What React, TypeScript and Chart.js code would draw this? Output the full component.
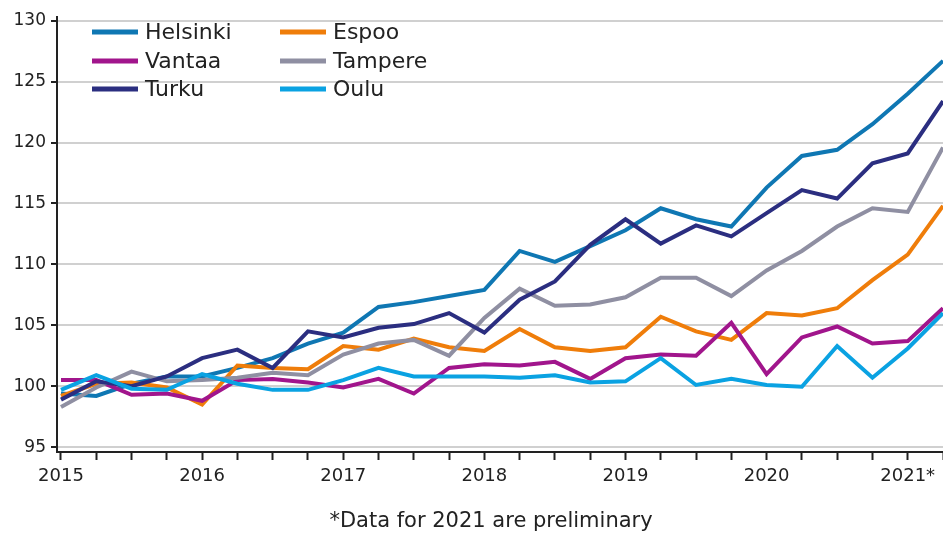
import React, { useEffect, useRef } from 'react';
import { Chart, registerables } from 'chart.js';

Chart.register(...registerables);

const quarters = [
  '2015Q1', '2015Q2', '2015Q3', '2015Q4',
  '2016Q1', '2016Q2', '2016Q3', '2016Q4',
  '2017Q1', '2017Q2', '2017Q3', '2017Q4',
  '2018Q1', '2018Q2', '2018Q3', '2018Q4',
  '2019Q1', '2019Q2', '2019Q3', '2019Q4',
  '2020Q1', '2020Q2', '2020Q3', '2020Q4',
  '2021Q1', '2021Q2',
];

const yearLabels = ['2015', '2016', '2017', '2018', '2019', '2020', '2021*'];
const yTicks = [95, 100, 105, 110, 115, 120, 125, 130];

const helsinki = [99.4, 99.2, 100.2, 100.8, 100.8, 101.5, 102.3, 103.5, 104.4, 106.5, 106.9, 107.4, 107.9, 111.1, 110.2, 111.5, 112.8, 114.6, 113.7, 113.1, 116.3, 118.9, 119.4, 121.5, 124.0, 126.7];
const espoo = [99.2, 100.2, 100.3, 99.9, 98.5, 101.7, 101.5, 101.4, 103.3, 103.0, 103.9, 103.2, 102.9, 104.7, 103.2, 102.9, 103.2, 105.7, 104.5, 103.8, 106.0, 105.8, 106.4, 108.7, 110.8, 114.8];
const vantaa = [100.5, 100.5, 99.3, 99.4, 98.8, 100.5, 100.6, 100.3, 99.9, 100.6, 99.4, 101.5, 101.8, 101.7, 102.0, 100.6, 102.3, 102.6, 102.5, 105.2, 101.0, 104.0, 104.9, 103.5, 103.7, 106.4];
const tampere = [98.3, 99.9, 101.2, 100.4, 100.5, 100.7, 101.1, 100.9, 102.6, 103.5, 103.8, 102.5, 105.6, 108.0, 106.6, 106.7, 107.3, 108.9, 108.9, 107.4, 109.5, 111.1, 113.1, 114.6, 114.3, 119.6];
const turku = [98.9, 100.4, 100.0, 100.8, 102.3, 103.0, 101.5, 104.5, 104.0, 104.8, 105.1, 106.0, 104.4, 107.1, 108.6, 111.6, 113.7, 111.7, 113.2, 112.3, 114.2, 116.1, 115.4, 118.3, 119.1, 123.4];
const oulu = [99.7, 100.9, 99.8, 99.7, 101.0, 100.2, 99.7, 99.7, 100.5, 101.5, 100.8, 100.8, 100.8, 100.7, 100.9, 100.3, 100.4, 102.3, 100.1, 100.6, 100.1, 99.95, 103.3, 100.7, 103.1, 106.0];

const seriesNames = ['Helsinki', 'Espoo', 'Vantaa', 'Tampere', 'Turku', 'Oulu'];
const seriesValues = [helsinki, espoo, vantaa, tampere, turku, oulu];
const seriesColors = ['#0f77b3', '#ef7d0a', '#a1158c', '#8f8fa2', '#2b2e80', '#0aa2e2'];

const footnote = '*Data for 2021 are preliminary';
const FONT = '"DejaVu Sans", sans-serif';
const TEXT = '#222222';

const overlayPlugin = {
  id: 'overlay',
  afterDraw(chart: any) {
    const ctx = chart.ctx;
    ctx.save();
    const cols = [92, 280];
    const rows = [32, 61, 89];
    chart.data.datasets.forEach((ds: any, i: number) => {
      const x = cols[i % 2];
      const y = rows[Math.floor(i / 2)];
      ctx.strokeStyle = ds.borderColor;
      ctx.lineWidth = 5;
      ctx.lineCap = 'butt';
      ctx.beginPath();
      ctx.moveTo(x, y);
      ctx.lineTo(x + 46, y);
      ctx.stroke();
      ctx.fillStyle = TEXT;
      ctx.font = `22px ${FONT}`;
      ctx.textAlign = 'left';
      ctx.textBaseline = 'middle';
      ctx.fillText(ds.label, x + 53, y + 1);
    });
    ctx.font = `21px ${FONT}`;
    ctx.textAlign = 'center';
    ctx.textBaseline = 'middle';
    ctx.fillStyle = TEXT;
    ctx.fillText(footnote, 491, 522);
    ctx.restore();
  },
};

export default function App() {
  const ref = useRef<HTMLCanvasElement | null>(null);

  useEffect(() => {
    if (!ref.current) return;
    const chart = new Chart(ref.current, {
      type: 'line',
      data: {
        datasets: seriesNames.map((name, si) => ({
          label: name,
          data: seriesValues[si].map((v, i) => ({ x: i, y: v })),
          borderColor: seriesColors[si],
          backgroundColor: seriesColors[si],
          borderWidth: 4,
          pointRadius: 0,
          tension: 0,
          order: seriesNames.length - si,
        })),
      },
      options: {
        responsive: false,
        animation: false,
        devicePixelRatio: 1,
        layout: { padding: { top: 17, left: 0, right: 0, bottom: 0 } },
        plugins: {
          legend: { display: false },
          tooltip: { enabled: false },
          title: { display: false },
        },
        scales: {
          x: {
            type: 'linear',
            min: -0.113,
            max: quarters.length - 1,
            afterBuildTicks: (s: any) => {
              s.ticks = quarters.map((_, i) => ({ value: i }));
            },
            afterFit: (s: any) => {
              s.height = 82;
              s.paddingLeft = 0;
              s.paddingRight = 0;
            },
            ticks: {
              autoSkip: false,
              maxRotation: 0,
              minRotation: 0,
              padding: 6,
              color: TEXT,
              font: { family: FONT, size: 18 },
              callback: (v: any) => (Number(v) % 4 === 0 ? yearLabels[Number(v) / 4] : ''),
            },
            grid: {
              drawOnChartArea: false,
              drawTicks: true,
              tickLength: 8,
              tickColor: TEXT,
              tickWidth: 2,
            },
            border: { color: TEXT, width: 2 },
          },
          y: {
            type: 'linear',
            min: 94.6,
            max: 130.3,
            afterBuildTicks: (s: any) => {
              s.ticks = yTicks.map((v) => ({ value: v }));
            },
            afterFit: (s: any) => {
              s.width = 57;
              s.paddingTop = 0;
              s.paddingBottom = 0;
            },
            ticks: {
              padding: 5,
              color: TEXT,
              font: { family: FONT, size: 17 },
            },
            grid: {
              color: '#d0d0d0',
              lineWidth: 2,
              tickColor: TEXT,
              tickLength: 6,
              tickWidth: 2,
            },
            border: { color: TEXT, width: 2 },
          },
        },
      },
      plugins: [overlayPlugin],
    });
    return () => chart.destroy();
  }, []);

  return (
    <div style={{ position: 'fixed', left: 0, top: 0, width: 943, height: 534, background: '#fff' }}>
      <canvas ref={ref} width={943} height={534} style={{ width: 943, height: 534 }} />
    </div>
  );
}
